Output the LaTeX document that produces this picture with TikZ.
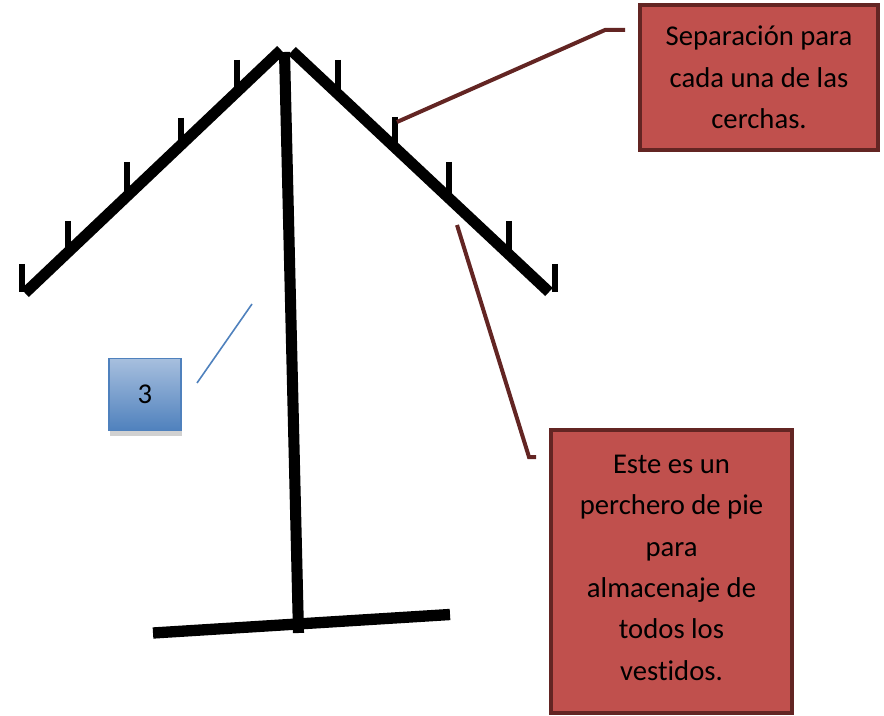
\documentclass[tikz,border=0pt]{standalone}
\usepackage{fontspec}
\setmainfont{Carlito}[Ligatures=NoCommon]
\definecolor{boxred}{HTML}{C0504D}
\definecolor{boxredline}{HTML}{632523}
\definecolor{calloutred}{HTML}{632523}
\definecolor{blueline}{HTML}{4F81BD}
\definecolor{bluetop}{HTML}{A7BFDE}
\definecolor{bluebot}{HTML}{4F81BD}
\tikzset{
  bar/.style={line width=8.3pt, line cap=butt},
  hook/.style={line width=4.8pt, line cap=butt},
  notebox/.style={draw=boxredline, fill=boxred, line width=3pt, align=center, inner sep=0pt,
    font=\fontsize{21.5}{31}\selectfont},
  callout/.style={draw=calloutred, line width=3pt},
  numbox/.style={draw=blueline, line width=1.2pt, top color=bluetop, bottom color=bluebot,
    minimum width=54pt, minimum height=54pt, inner sep=0pt, font=\fontsize{21.5}{24}\selectfont},
}
\begin{document}
\begin{tikzpicture}[x=0.75pt,y=-0.75pt]
\useasboundingbox (0,0) rectangle (884,716);
% hooks on left arm
\foreach \x/\yt/\yb in {22/264/292, 68/221/250, 127/162/193, 181/118/142, 237/60/91}
  \draw[hook] (\x,\yt) -- (\x,\yb);
% hooks on right arm
\foreach \x/\yt/\yb in {338/60/95, 395/117/148, 449/162/200, 509/221/255, 555/264/292}
  \draw[hook] (\x,\yt) -- (\x,\yb);
% arms
\coordinate (la1) at (25,293);
\coordinate (la2) at (281,50);
\coordinate (ra1) at (292,51);
\coordinate (ra2) at (549,292);
\draw[bar] (la1) -- (la2);
\draw[bar] (ra1) -- (ra2);
% pole and base
\coordinate (pt) at (284.5,52);
\coordinate (pb) at (298.5,633);
\draw[bar] (pt) -- (pb);
\coordinate (bl) at (153,633);
\coordinate (br) at (450,614.5);
\draw[line width=8.5pt] (bl) -- (br);
% note boxes
\node[notebox, minimum width=178.5pt, minimum height=108.75pt] (n1) at (759,77.5)
  {Separación para\\cada una de las\\cerchas.};
\node[notebox, text depth=6pt, minimum width=180.75pt, minimum height=212.25pt] (n2) at (671.5,571.5)
  {Este es un\\perchero de pie\\para\\almacenaje de\\todos los\\vestidos.};
% callouts
\coordinate (c1a) at (625,30);
\coordinate (c1b) at (605,30);
\coordinate (c1c) at (397,122);
\draw[callout] (c1a) -- (c1b) -- (c1c);
\coordinate (c2a) at (536,457);
\coordinate (c2b) at (529,457);
\coordinate (c2c) at (457,225);
\draw[callout] (c2a) -- (c2b) -- (c2c);
% blue number box
\fill[black!18] (110,363) rectangle (182,436);
\node[numbox] (n3) at (145,394.5) {3};
\coordinate (b1) at (197,383);
\coordinate (b2) at (252,304);
\draw[draw=blueline, line width=1.2pt] (b1) -- (b2);
\end{tikzpicture}
\end{document}
